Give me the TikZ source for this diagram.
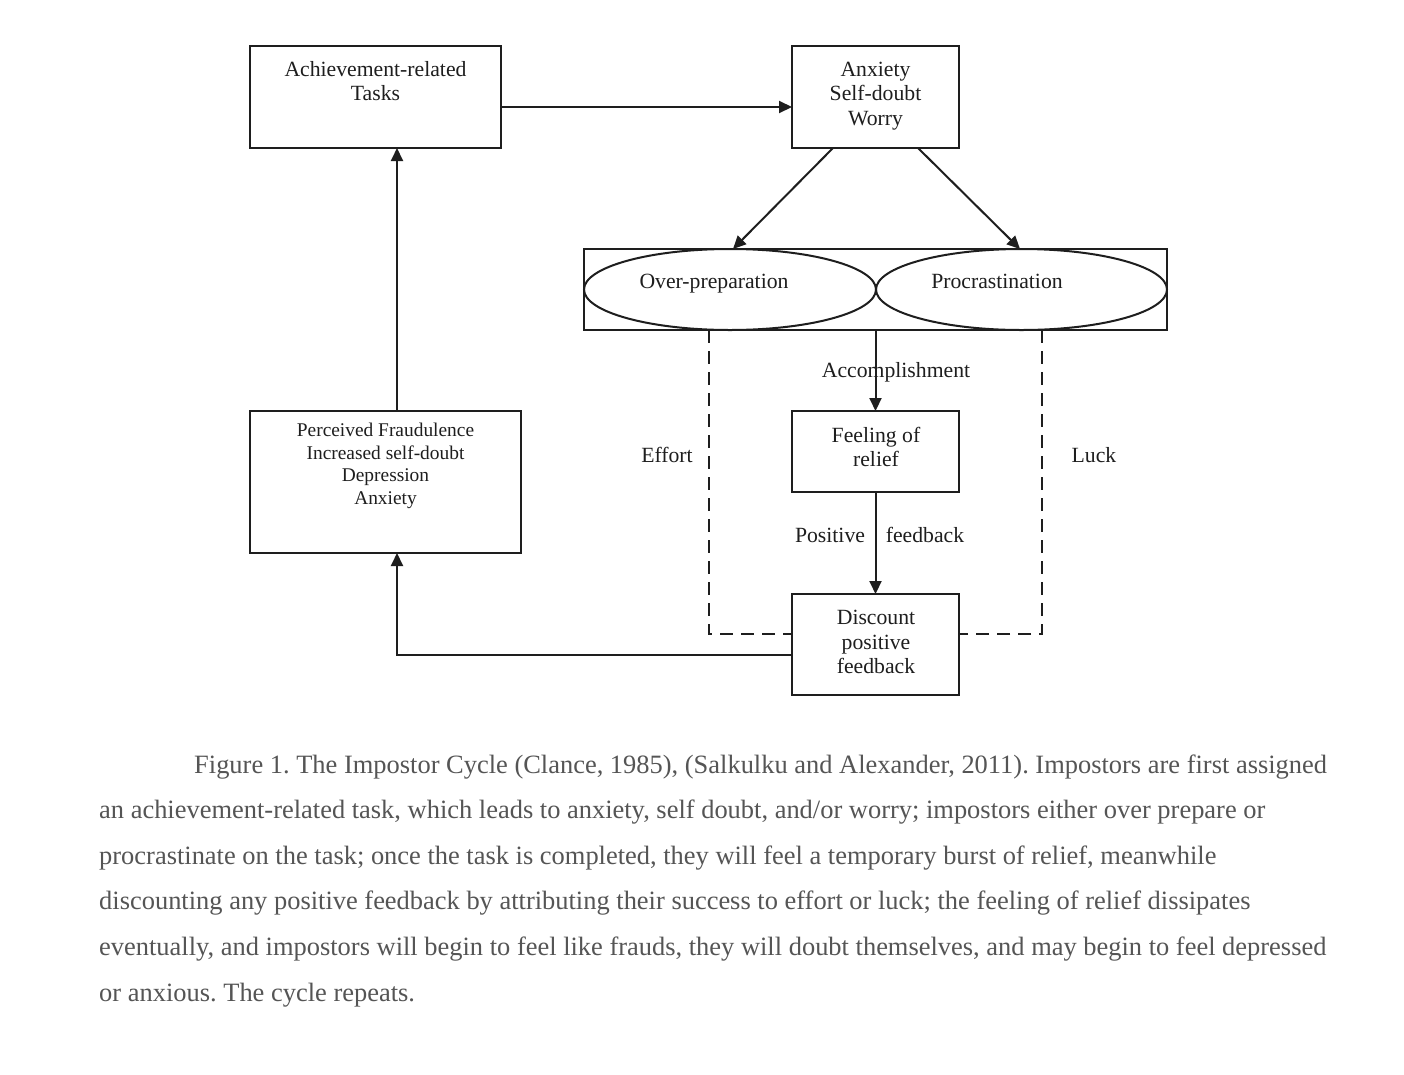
\documentclass[tikz,border=0pt]{standalone}
\usepackage{fontspec}
\setmainfont{Liberation Serif}
\usetikzlibrary{arrows.meta,shapes.geometric}
\definecolor{ink}{HTML}{1E1E1E}
\definecolor{capgray}{HTML}{555555}
\frenchspacing
\begin{document}
\begin{tikzpicture}[x=1pt,y=-1pt,
  box/.style={draw=ink, line width=2pt, inner sep=0pt, outer sep=0pt},
  oval/.style={ellipse, draw=ink, line width=2pt, inner sep=0pt, outer sep=0pt},
  txt/.style={text=ink, font=\fontsize{21.7}{24.5}\selectfont, align=center, inner sep=0pt},
  smalltxt/.style={text=ink, font=\fontsize{19.4}{22.5}\selectfont, align=center, inner sep=0pt},
  captxt/.style={text=capgray, font=\fontsize{26.45}{28}\selectfont\frenchspacing, anchor=base west, inner sep=0pt},
  arr/.style={draw=ink, line width=2pt, -{Triangle[length=13pt,width=12pt]}},
  dashline/.style={draw=ink, line width=2pt, dash pattern=on 13pt off 8pt}
]
\useasboundingbox[fill=white] (0,0) rectangle (1404,1074);

% boxes
\node[box, minimum width=251pt, minimum height=102pt] (A) at (375.5,97) {};
\node[box, minimum width=167pt, minimum height=102pt] (B) at (875.5,97) {};
\node[box, minimum width=583pt, minimum height=81pt] (C) at (875.5,289.5) {};
\node[oval, minimum width=292pt, minimum height=81pt] (E1) at (730,289.5) {};
\node[oval, minimum width=291pt, minimum height=81pt] (E2) at (1021.5,289.5) {};
\node[box, minimum width=167pt, minimum height=81pt] (F) at (875.5,451.5) {};
\node[box, minimum width=167pt, minimum height=101pt] (D) at (875.5,644.5) {};
\node[box, minimum width=271pt, minimum height=142pt] (P) at (385.5,482) {};

% box texts
\node[txt] (tA) at (375.5,81) {Achievement-related\\Tasks};
\node[txt] (tB) at (875.5,96) {Anxiety\\Self-doubt\\Worry};
\node[txt, anchor=base] (tE1) at (714,288.5) {Over-preparation};
\node[txt, anchor=base] (tE2) at (997,288.5) {Procrastination};
\node[txt] (tF) at (876,447) {Feeling of\\relief};
\node[txt] (tD) at (876,642) {Discount\\positive\\feedback};
\node[smalltxt] (tP) at (385.5,466) {Perceived Fraudulence\\Increased self-doubt\\Depression\\Anxiety};

% connectors
\draw[arr] ([yshift=-10pt]A.east) -- ([yshift=-10pt]B.west);
\draw[arr] ([xshift=-42.5pt]B.south) -- ([xshift=3pt]E1.north);
\draw[arr] ([xshift=42.5pt]B.south) -- ([xshift=-1.5pt]E2.north);
\draw[arr] (C.south) -- (F.north);
\draw[arr] (F.south) -- (D.north);
\draw[arr] ([yshift=-10.5pt]D.west) -| ([xshift=11.5pt]P.south);
\draw[arr] ([xshift=11.5pt]P.north) -- ([xshift=21.5pt]A.south);

\coordinate (dl) at (709,330);
\coordinate (dr) at (1042,330);
\draw[dashline] (dl) |- ([yshift=10.5pt]D.west);
\draw[dashline] (dr) |- ([yshift=10.5pt]D.east);

% labels
\node[txt] (lAcc) at (896,372) {Accomplishment};
\node[txt] (lEff) at (667,455) {Effort};
\node[txt] (lLuck) at (1094,455) {Luck};
\node[txt] (lPos) at (830,535) {Positive};
\node[txt] (lFb) at (925,535) {feedback};

% caption
\node[captxt] (c1) at (194,773) {Figure 1. The Impostor Cycle (Clance, 1985), (Salkulku and Alexander, 2011). Impostors are first assigned};
\node[captxt] (c2) at (99,818.6) {an achievement-related task, which leads to anxiety, self doubt, and/or worry; impostors either over prepare or};
\node[captxt] (c3) at (99,864.2) {procrastinate on the task; once the task is completed, they will feel a temporary burst of relief, meanwhile};
\node[captxt] (c4) at (99,909.8) {discounting any positive feedback by attributing their success to effort or luck; the feeling of relief dissipates};
\node[captxt] (c5) at (99,955.4) {eventually, and impostors will begin to feel like frauds, they will doubt themselves, and may begin to feel depressed};
\node[captxt] (c6) at (99,1001) {or anxious. The cycle repeats.};
\end{tikzpicture}
\end{document}
